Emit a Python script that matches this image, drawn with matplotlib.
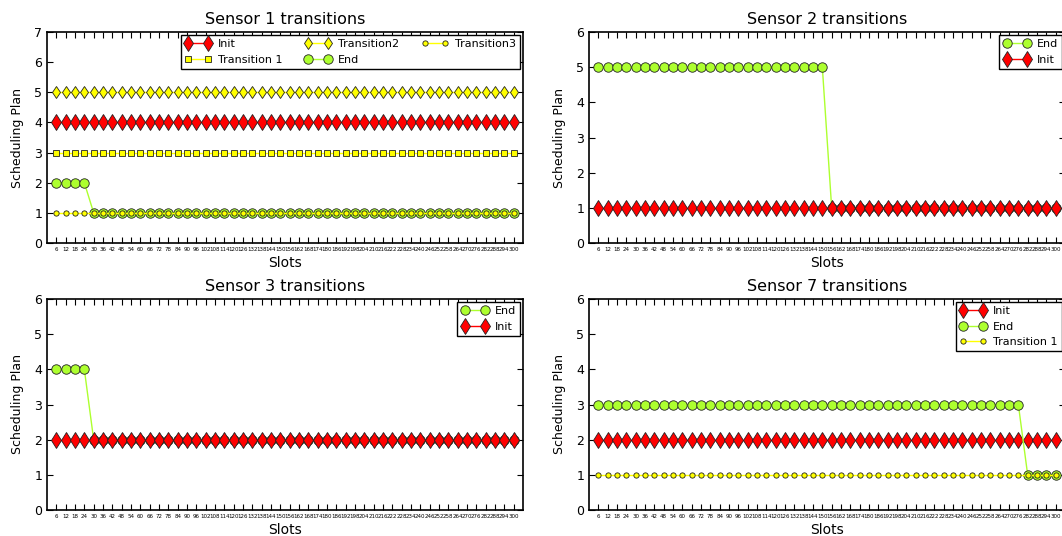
import numpy as np
import matplotlib
matplotlib.use("Agg")
import matplotlib.pyplot as plt

# x categories: slot numbers
slots = np.arange(6, 301, 6)
n = len(slots)

# Sensor 1
s1_init = [4] * n
s1_trans1 = [3] * n
s1_trans2 = [5] * n
s1_end = [2] * 4 + [1] * (n - 4)
s1_trans3 = [1] * n

# Sensor 2
s2_end = [5] * 25 + [1] * (n - 25)
s2_init = [1] * n

# Sensor 3
s3_end = [4] * 4 + [2] * (n - 4)
s3_init = [2] * n

# Sensor 7
s7_init = [2] * n
s7_end = [3] * 46 + [1] * (n - 46)
s7_trans1 = [1] * n

plt.rcParams['font.family'] = 'DejaVu Sans'
plt.rcParams['xtick.direction'] = 'in'
plt.rcParams['ytick.direction'] = 'in'
plt.rcParams['xtick.top'] = True
plt.rcParams['ytick.right'] = True
plt.rcParams['lines.linewidth'] = 1.0

fig = plt.figure(figsize=(10.62, 5.36), dpi=100)
W, H = 1062.0, 536.0


def make_ax(left, top, width=476, height=211):
    return fig.add_axes([left / W, 1 - (top + height) / H, width / W, height / H])


ax1 = make_ax(47, 32)
ax2 = make_ax(589, 32)
ax3 = make_ax(47, 299)
ax4 = make_ax(589, 299)

edge = dict(mec='#222222', mew=0.6)


def init_line(ax, y):
    ax.plot(slots, y, color='red', marker='d', ms=8.5, label='Init', **edge)


def end_line(ax, y):
    ax.plot(slots, y, color='greenyellow', marker='o', ms=6.8, label='End', **edge)


def small_line(ax, y, label):
    ax.plot(slots, y, color='yellow', marker='o', ms=3.8, label=label, **edge)


leg_style = dict(loc='upper right', fontsize=8, numpoints=2, fancybox=False,
                 edgecolor='black', framealpha=1, borderaxespad=0.3,
                 handlelength=2.4, handletextpad=0.6, borderpad=0.35,
                 labelspacing=0.5)

# Sensor 1
init_line(ax1, s1_init)
ax1.plot(slots, s1_trans1, color='yellow', marker='s', ms=5, label='Transition 1', **edge)
ax1.plot(slots, s1_trans2, color='yellow', marker='d', ms=6.5, label='Transition2', **edge)
end_line(ax1, s1_end)
small_line(ax1, s1_trans3, 'Transition3')
ax1.set_ylim(0, 7)
ax1.set_title('Sensor 1 transitions', fontsize=11.5)
ax1.legend(ncol=3, columnspacing=2.0, **leg_style)

# Sensor 2
end_line(ax2, s2_end)
init_line(ax2, s2_init)
ax2.set_ylim(0, 6)
ax2.set_title('Sensor 2 transitions', fontsize=11.5)

# Sensor 3
end_line(ax3, s3_end)
init_line(ax3, s3_init)
ax3.set_ylim(0, 6)
ax3.set_title('Sensor 3 transitions', fontsize=11.5)

# Sensor 7
init_line(ax4, s7_init)
end_line(ax4, s7_end)
small_line(ax4, s7_trans1, 'Transition 1')
ax4.set_ylim(0, 6)
ax4.set_title('Sensor 7 transitions', fontsize=11.5)

for ax in (ax2, ax3, ax4):
    ax.legend(**leg_style)

for ax in (ax1, ax2, ax3, ax4):
    ax.set_xlim(0, 306)
    ax.set_xticks(slots)
    ax.set_xticklabels([str(s) for s in slots], fontsize=4)
    ax.tick_params(axis='y', labelsize=9, length=4)
    ax.tick_params(axis='x', length=4, pad=3)
    ax.set_xlabel('Slots', fontsize=10, labelpad=3)
    ax.set_ylabel('Scheduling Plan', fontsize=9, labelpad=7)
    for sp in ax.spines.values():
        sp.set_linewidth(1.2)

fig.savefig('out.png', dpi=100, facecolor='white')
